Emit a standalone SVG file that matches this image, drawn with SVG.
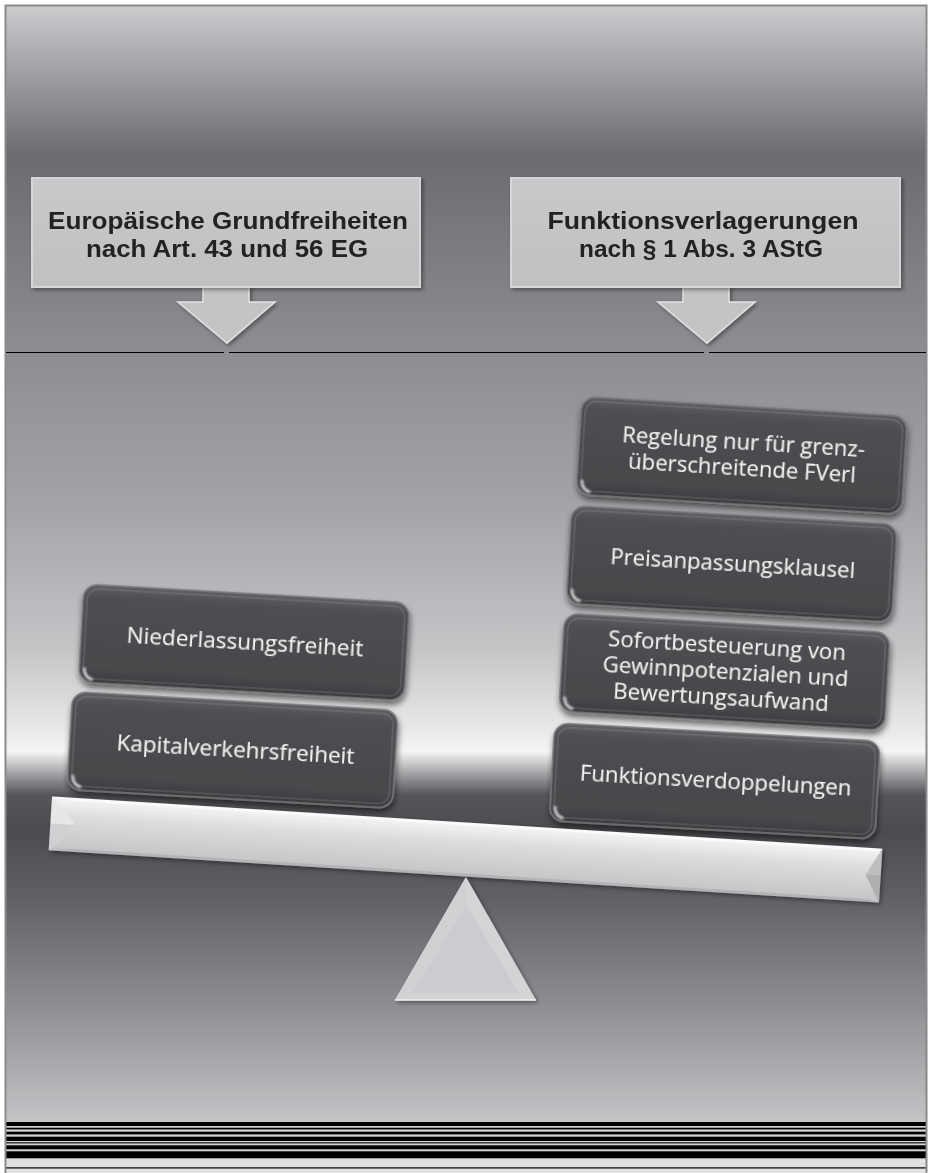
<svg xmlns="http://www.w3.org/2000/svg" width="928" height="1173" viewBox="0 0 928 1173">
<defs>
<linearGradient id="bgTop" x1="0" y1="6" x2="0" y2="352" gradientUnits="userSpaceOnUse">
<stop offset="0" stop-color="#cacbcd"/>
<stop offset="0.43" stop-color="#6b6c70"/>
<stop offset="1" stop-color="#8d8e91"/>
</linearGradient>
<linearGradient id="bgBot" x1="0" y1="352" x2="0" y2="1122" gradientUnits="userSpaceOnUse">
<stop offset="0" stop-color="#8d8e91"/>
<stop offset="0.192" stop-color="#a2a3a6"/>
<stop offset="0.387" stop-color="#c4c5c7"/>
<stop offset="0.497" stop-color="#ebebec"/>
<stop offset="0.519" stop-color="#f5f5f5"/>
<stop offset="0.545" stop-color="#a9aaac"/>
<stop offset="0.575" stop-color="#55565a"/>
<stop offset="0.621" stop-color="#4b4c50"/>
<stop offset="0.712" stop-color="#616266"/>
<stop offset="0.842" stop-color="#8b8c8f"/>
<stop offset="1" stop-color="#c3c4c6"/>
</linearGradient>
<linearGradient id="dkg" x1="0" y1="0" x2="0" y2="1">
<stop offset="0" stop-color="#5e5f62"/>
<stop offset="0.12" stop-color="#4e4f52"/>
<stop offset="0.85" stop-color="#47484b"/>
<stop offset="1" stop-color="#3b3c3f"/>
</linearGradient>
<linearGradient id="beamFace" x1="0" y1="0" x2="0" y2="1">
<stop offset="0" stop-color="#f6f6f6"/>
<stop offset="0.35" stop-color="#dcdddf"/>
<stop offset="1" stop-color="#c3c4c6"/>
</linearGradient>
<linearGradient id="lightBox" x1="0" y1="0" x2="0" y2="1">
<stop offset="0" stop-color="#c8c9cb"/>
<stop offset="1" stop-color="#bfc0c2"/>
</linearGradient>
<filter id="sh" x="-10%" y="-15%" width="125%" height="150%">
<feGaussianBlur in="SourceAlpha" stdDeviation="3"/>
<feOffset dx="1" dy="4"/>
<feComponentTransfer><feFuncA type="linear" slope="0.55"/></feComponentTransfer>
<feMerge><feMergeNode/><feMergeNode in="SourceGraphic"/></feMerge>
</filter>
<filter id="shs" x="-10%" y="-15%" width="125%" height="150%">
<feGaussianBlur in="SourceAlpha" stdDeviation="2"/>
<feOffset dx="2" dy="2"/>
<feComponentTransfer><feFuncA type="linear" slope="0.4"/></feComponentTransfer>
<feMerge><feMergeNode/><feMergeNode in="SourceGraphic"/></feMerge>
</filter>
<filter id="glow" x="-100%" y="-100%" width="300%" height="300%">
<feGaussianBlur stdDeviation="1.2"/>
</filter>
<style>
.body{fill:url(#dkg);stroke:#77787b;stroke-width:1.5}
.rim{fill:none;stroke:#ffffff;stroke-opacity:0.13;stroke-width:1.5}
.gl{fill:none;stroke:#ffffff;stroke-width:2.5;opacity:0.8}
.dt{font-family:"Open Sans","Liberation Sans",sans-serif;font-size:21px;fill:#f4f4f4;text-anchor:middle}
.lt{font-family:"Liberation Sans",Arial,sans-serif;font-weight:bold;font-size:24px;fill:#222222;text-anchor:middle}
.lbox{fill:url(#lightBox);stroke:#d6d7d9;stroke-width:2}
.arrow{fill:#c3c4c6;stroke:#e2e3e4;stroke-width:1.5;stroke-linejoin:miter}
.stripe{fill:#000000}
</style>
</defs>

<!-- background -->
<rect x="0" y="0" width="928" height="1173" fill="#ffffff"/>
<rect x="6" y="6" width="920" height="346" fill="url(#bgTop)"/>
<rect x="6" y="352" width="920" height="770" fill="url(#bgBot)"/>
<rect x="6" y="1122" width="920" height="37" fill="#d2d3d5"/>
<rect x="6" y="1158" width="920" height="15" fill="#e0e1e3"/>
<g id="stripes">
<rect class="stripe" x="6" y="1122" width="920" height="4"/>
<rect class="stripe" x="6" y="1127.7" width="920" height="1.7"/>
<rect class="stripe" x="6" y="1131.7" width="920" height="2.7"/>
<rect class="stripe" x="6" y="1136.7" width="920" height="4.3"/>
<rect class="stripe" x="6" y="1142.3" width="920" height="1.1"/>
<rect class="stripe" x="6" y="1145.3" width="920" height="4"/>
<rect class="stripe" x="6" y="1151.3" width="920" height="7"/>
<rect class="stripe" x="6" y="1167.3" width="920" height="1.2"/>
</g>
<!-- frame -->
<path d="M5.5,1173 V5.5 H926.5 V1173" fill="none" stroke="#8a8a8a" stroke-width="2"/>
<!-- separator -->
<g id="separator" stroke="#000000" stroke-width="1.2">
<line x1="6" y1="352.5" x2="224" y2="352.5"/>
<line x1="229" y1="352.5" x2="704" y2="352.5"/>
<line x1="709" y1="352.5" x2="926" y2="352.5"/>
</g>

<!-- connectors (block arrows) -->
<g id="connectors" filter="url(#shs)">
<polygon class="arrow" points="203,286 249,286 249,302 275,302 227,343 178,302 203,302"/>
<polygon class="arrow" points="683,286 729,286 729,302 755,302 707,343 658,302 683,302"/>
</g>

<!-- top nodes -->
<g id="node-eu" filter="url(#shs)">
<rect class="lbox" x="32" y="178" width="388" height="109"/>
<text class="lt" x="228" y="229" textLength="360" lengthAdjust="spacingAndGlyphs">Europäische Grundfreiheiten</text>
<text class="lt" x="227" y="257" textLength="282" lengthAdjust="spacingAndGlyphs">nach Art. 43 und 56 EG</text>
</g>
<g id="node-fv" filter="url(#shs)">
<rect class="lbox" x="511" y="178" width="389" height="109"/>
<text class="lt" x="703" y="229" textLength="311" lengthAdjust="spacingAndGlyphs">Funktionsverlagerungen</text>
<text class="lt" x="701" y="257" textLength="244" lengthAdjust="spacingAndGlyphs">nach § 1 Abs. 3 AStG</text>
</g>

<!-- left stack -->
<g id="node-niederlassung" transform="translate(244,642.5) rotate(3.3)" filter="url(#sh)">
<rect class="body" x="-163" y="-49" width="326" height="98" rx="14"/>
<rect class="rim" x="-159" y="-45" width="318" height="90" rx="11"/>
<path class="gl" d="M-158,34 Q-158,44 -149,46" filter="url(#glow)"/>
<text class="dt" x="1" y="7" textLength="237" lengthAdjust="spacingAndGlyphs">Niederlassungsfreiheit</text>
</g>
<g id="node-kapital" transform="translate(232.5,750) rotate(3.3)" filter="url(#sh)">
<rect class="body" x="-163" y="-49" width="326" height="98" rx="14"/>
<rect class="rim" x="-159" y="-45" width="318" height="90" rx="11"/>
<path class="gl" d="M-158,34 Q-158,44 -149,46" filter="url(#glow)"/>
<text class="dt" x="3" y="7" textLength="238" lengthAdjust="spacingAndGlyphs">Kapitalverkehrsfreiheit</text>
</g>

<!-- right stack -->
<g id="node-regelung" transform="translate(741.75,455.5) rotate(3.5)" filter="url(#sh)">
<rect class="body" x="-163" y="-49" width="326" height="98" rx="14"/>
<rect class="rim" x="-159" y="-45" width="318" height="90" rx="11"/>
<path class="gl" d="M-158,34 Q-158,44 -149,46" filter="url(#glow)"/>
<text class="dt" x="1" y="-6" textLength="243" lengthAdjust="spacingAndGlyphs">Regelung nur für grenz-</text>
<text class="dt" x="1" y="20" textLength="228" lengthAdjust="spacingAndGlyphs">überschreitende FVerl</text>
</g>
<g id="node-preis" transform="translate(731.75,564) rotate(3.3)" filter="url(#sh)">
<rect class="body" x="-163" y="-49" width="326" height="98" rx="14"/>
<rect class="rim" x="-159" y="-45" width="318" height="90" rx="11"/>
<path class="gl" d="M-158,34 Q-158,44 -149,46" filter="url(#glow)"/>
<text class="dt" x="1" y="7" textLength="245" lengthAdjust="spacingAndGlyphs">Preisanpassungsklausel</text>
</g>
<g id="node-sofort" transform="translate(724.5,672) rotate(3.4)" filter="url(#sh)">
<rect class="body" x="-163" y="-49" width="326" height="98" rx="14"/>
<rect class="rim" x="-159" y="-45" width="318" height="90" rx="11"/>
<path class="gl" d="M-158,34 Q-158,44 -149,46" filter="url(#glow)"/>
<text class="dt" x="1" y="-19" textLength="238" lengthAdjust="spacingAndGlyphs">Sofortbesteuerung von</text>
<text class="dt" x="1" y="7" textLength="246" lengthAdjust="spacingAndGlyphs">Gewinnpotenzialen und</text>
<text class="dt" x="-2" y="33" textLength="216" lengthAdjust="spacingAndGlyphs">Bewertungsaufwand</text>
</g>
<g id="node-funktion" transform="translate(714.75,781) rotate(3.2)" filter="url(#sh)">
<rect class="body" x="-163" y="-49" width="326" height="98" rx="14"/>
<rect class="rim" x="-159" y="-45" width="318" height="90" rx="11"/>
<path class="gl" d="M-158,34 Q-158,44 -149,46" filter="url(#glow)"/>
<text class="dt" x="1" y="7" textLength="272" lengthAdjust="spacingAndGlyphs">Funktionsverdoppelungen</text>
</g>

<!-- beam -->
<g id="beam" transform="translate(465.5,849.5) rotate(3.6)" filter="url(#shs)">
<rect x="-416" y="-27" width="832" height="54" fill="url(#beamFace)"/>
<polygon points="-416,-27 416,-27 410,-24 -392,-24" fill="#fafafa"/>
<polygon points="-416,27 416,27 402,24 -392,24" fill="#b3b4b6"/>
<polygon points="-416,-27 -391,0 -416,27" fill="#e7e7e8"/>
<polygon points="-416,0 -391,0 -416,27" fill="#cfd0d2"/>
<polygon points="416,-27 401,0 416,27" fill="#bdbec0"/>
<polygon points="416,0 401,0 416,27" fill="#aeafb1"/>
</g>

<!-- fulcrum -->
<g id="fulcrum" filter="url(#shs)">
<polygon points="466,877 536,1000 395,1000" fill="#d3d4d6"/>
<polygon points="466,905 519,993 412,993" fill="#cbcccf"/>
<polygon points="466,877 466,905 412,993 395,1000" fill="#d0d1d3"/>
<line x1="395" y1="1000" x2="536" y2="1000" stroke="#f2f2f2" stroke-width="1.5"/>
</g>
</svg>
